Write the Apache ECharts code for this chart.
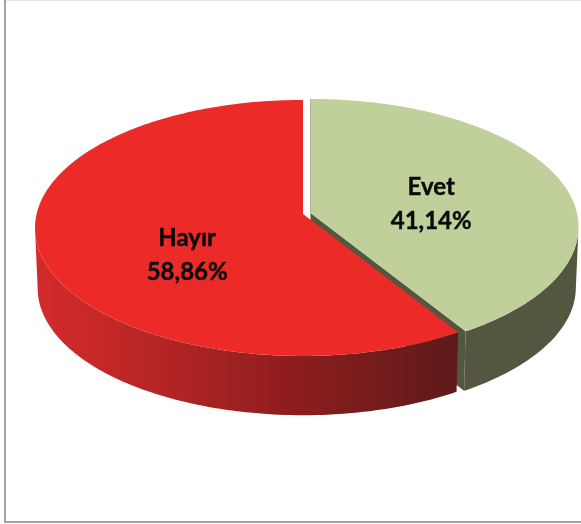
<!DOCTYPE html>
<html><head><meta charset="utf-8">
<style>html,body{margin:0;padding:0;background:#fff}#c{width:581px;height:524px}</style>
<script src="https://cdn.jsdelivr.net/npm/echarts@6/dist/echarts.min.js"></script>
</head><body><div id="c"></div>
<script>
const categories = ['Evet', 'Hayır'];
const shares = [41.14, 58.86];

const TOP = ['#bfd09a', '#ec2b29'];
const WALL = [
  '#54563f',
  {type:'linear',x:35,y:0,x2:460,y2:0,global:true,colorStops:[
    {offset:0,color:'#d42b2b'},{offset:0.25,color:'#bb2626'},{offset:0.6,color:'#8e1d1e'},{offset:1,color:'#5c1a1a'}]}
];
const LAYOUT = {
  apexX:[310.5,303], apexY:[213,214], cy:228,
  rx:266.4, ry:126.5, k:0.109, shrink:0.99, drop:60.5,
  labelR:[0.48,0.45], labelDy:[8,25], labelDx:[-0.5,1]
};

const total = shares.reduce((a,b)=>a+b,0);
function project(i, f, deg){
  const t = deg*Math.PI/180, X = f*Math.sin(t), Y = f*Math.cos(t), w = 1+LAYOUT.k*Y;
  return [LAYOUT.apexX[i]+LAYOUT.rx*X/w, LAYOUT.apexY[i]-LAYOUT.ry*Y/w];
}
function lower(i, p){
  return [LAYOUT.apexX[i]+(p[0]-LAYOUT.apexX[i])*LAYOUT.shrink,
          LAYOUT.cy+LAYOUT.drop+(p[1]-LAYOUT.cy)*LAYOUT.shrink];
}
function renderItem(params, api){
  const i = params.dataIndex, v = api.value(0);
  let start = 0;
  for(let j=0;j<i;j++) start += shares[j]/total*360;
  const end = start + v/total*360;
  const rim = [];
  const n = 180;
  for(let s=0;s<=n;s++) rim.push(project(i,1,start+(end-start)*s/n));
  const apex = project(i,0,0);
  const front = rim.filter(p=>p[1]>=LAYOUT.cy);
  const wallPts = front.concat(front.slice().reverse().map(p=>lower(i,p)));
  const children = [];
  children.push({type:'polygon',shape:{points:wallPts},style:{fill:WALL[i]}});
  if(i===0){
    const last = rim[rim.length-1];
    children.push({type:'polygon',
      shape:{points:[apex,last,lower(i,last),lower(i,apex)]},
      style:{fill:'#54563f'}});
    children.push({type:'polyline',shape:{points:[apex,rim[0]]},style:{stroke:'#9a9c80',lineWidth:1,fill:null}});
  }
  children.push({type:'polygon',shape:{points:[apex].concat(rim)},style:{fill:TOP[i]}});
  const mid = project(i,LAYOUT.labelR[i],(start+end)/2);
  children.push({type:'text',style:{
    text:categories[i]+'\n'+v.toFixed(2).replace('.',',')+'%',
    x:mid[0]+LAYOUT.labelDx[i],y:mid[1]+LAYOUT.labelDy[i],align:'center',verticalAlign:'middle',
    font:'bold 24px Lato, "Open Sans", sans-serif',lineHeight:34,fill:'#0b0b0b',stroke:'#0b0b0b',lineWidth:0.4}});
  return {type:'group',children};
}
const chart = echarts.init(document.getElementById('c'),null,{renderer:'canvas'});
chart.setOption({
  animation:false,
  backgroundColor:'#ffffff',
  graphic:{elements:[
    {type:'rect',silent:true,z:10,shape:{x:4,y:0,width:2,height:523},style:{fill:'#a3a3a3'}},
    {type:'rect',silent:true,z:10,shape:{x:4,y:521,width:577,height:2},style:{fill:'#a3a3a3'}},
    {type:'rect',silent:true,z:10,shape:{x:6,y:0,width:575,height:1},style:{fill:'#e6e6e6'}}
  ]},
  series:[{
    type:'custom',coordinateSystem:'none',
    data:shares.map((v,i)=>({name:categories[i],value:[v]})),
    renderItem
  }]
});
</script></body></html>
